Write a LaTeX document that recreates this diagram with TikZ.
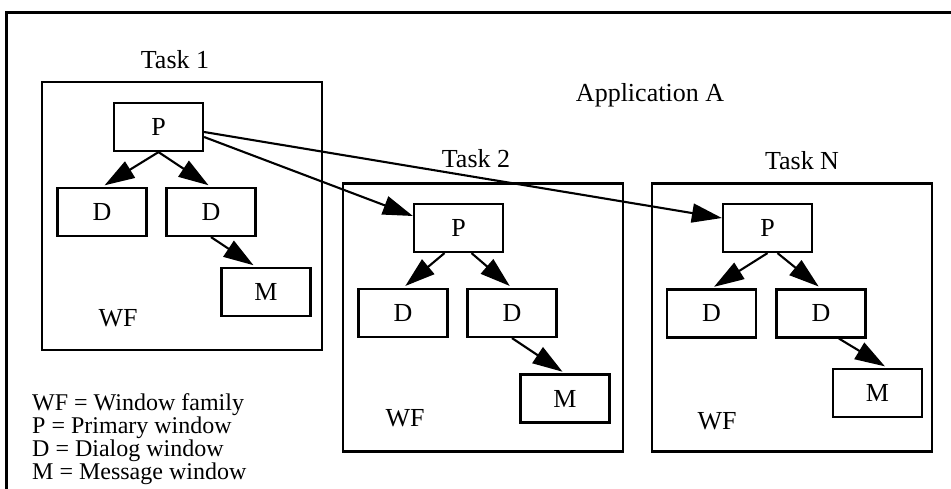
\documentclass[tikz,border=0pt]{standalone}
\usepackage{fontspec}
\setmainfont{Liberation Serif}
\usepackage{tikz}
\usetikzlibrary{arrows.meta}

\begin{document}
\begin{tikzpicture}[
  x=1pt, y=-1pt,
  family/.style={draw, line width=2.3pt, minimum width=280pt, minimum height=268pt, inner sep=0pt},
  window/.style={draw, line width=2.2pt, minimum width=89pt, minimum height=48pt,
    inner sep=0pt, font=\fontsize{26}{28}\selectfont},
  caption/.style={inner sep=0pt, font=\fontsize{26}{28}\selectfont},
  edge/.style={-{Triangle[length=30pt, width=19pt]}, line width=2.1pt, shorten >=3pt},
  legend/.style={inner sep=0pt, align=left, font=\fontsize{24}{23.3}\selectfont},
  frame/.style={line width=3pt}
]
\useasboundingbox (0,0) rectangle (951,489);
\draw[frame] (6,489) -- (6,13) -- (951,13);

\node[caption] (app) at (650,95) {Application A};

\node[family] (t1) at (182,216) {};
\node[family] (t2) at (483,317.5) {};
\node[family] (tn) at (792,317.5) {};
\node[caption] (t1lab) at (175,60) {Task 1};
\node[caption] (t2lab) at (476,159) {Task 2};
\node[caption] (tnlab) at (802,161) {Task N};

\node[window] (p1) at (158.5,127) {P};
\node[window] (d1a) at (102,212) {D};
\node[window] (d1b) at (211,212) {D};
\node[window] (m1) at (266,292) {M};
\node[caption] (wf1) at (118,318) {WF};

\node[window] (p2) at (458.5,228) {P};
\node[window] (d2a) at (403,313) {D};
\node[window] (d2b) at (512,313) {D};
\node[window] (m2) at (565,398.5) {M};
\node[caption] (wf2) at (405,418) {WF};

\node[window] (pn) at (767.5,228) {P};
\node[window] (dna) at (711.5,313.5) {D};
\node[window] (dnb) at (821,313.5) {D};
\node[window] (mn) at (877.5,393) {M};
\node[caption] (wfn) at (717,421) {WF};

\node[legend, anchor=north west] (key) at (32,393) {WF = Window family\\
  P = Primary window\\
  D = Dialog window\\
  M = Message window};

\draw[edge] (p1.south) -- (d1a.north);
\draw[edge] (p1.south) -- (d1b.north);
\draw[edge] (d1b.south) -- ([xshift=-10pt]m1.north);

\draw[edge] ([xshift=-14pt]p2.south) -- (d2a.north);
\draw[edge] ([xshift=13pt]p2.south) -- (d2b.north);
\draw[edge] (d2b.south) -- (m2.north);

\draw[edge] (pn.south) -- (dna.north);
\draw[edge] ([xshift=10pt]pn.south) -- (dnb.north);
\draw[edge] ([xshift=18pt]dnb.south) -- ([xshift=10pt]mn.north);

\draw[edge, shorten >=0pt] ([yshift=-10pt]p1.east) -- ([yshift=12pt]p2.west);
\draw[edge, shorten >=0pt] ([yshift=-5pt]p1.east) -- ([yshift=10pt]pn.west);
\end{tikzpicture}
\end{document}
